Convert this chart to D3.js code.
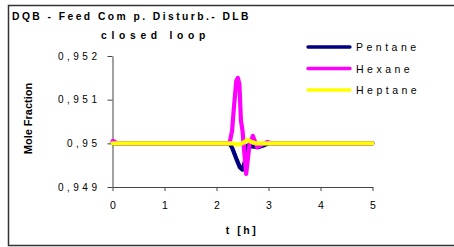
<!DOCTYPE html>
<html>
<head>
<meta charset="utf-8">
<script src="https://cdn.jsdelivr.net/npm/d3@7"></script>
<style>
  html, body { margin: 0; padding: 0; background: #fff; }
  svg { display: block; }
  text { font-family: "Liberation Sans", Arial, sans-serif; fill: #000; }
</style>
</head>
<body>
<svg id="chart" width="454" height="247"></svg>
<script>
// ---- data ----
const titleLines = ["DQB - Feed Com p. Disturb.- DLB", "closed loop"];
const xLabel = "t [h]";
const yLabel = "Mole Fraction";
const xTicks = [0, 1, 2, 3, 4, 5];
const yTicks = [0.949, 0.950, 0.951, 0.952];
const yTickLabels = ["0,949", "0,95", "0,951", "0,952"];
const seriesNames = ["Pentane", "Hexane", "Heptane"];
const seriesColors = ["#000080", "#FF00FF", "#FFFF00"];

const pentaneT = [0, 2.25, 2.30, 2.38, 2.45, 2.50, 2.55, 2.60, 2.68, 2.80, 2.90, 3.00, 5];
const pentaneV = [0.95, 0.95, 0.94990, 0.94965, 0.94945, 0.94940, 0.94960, 0.94995, 0.94993, 0.94991, 0.94995, 0.95, 0.95];

const hexaneT = [0, 0.04, 0.08, 2.25, 2.30, 2.33, 2.38, 2.41, 2.44, 2.47, 2.50, 2.52, 2.57, 2.635, 2.70, 2.78, 2.87, 2.97, 3.07, 5];
const hexaneV = [0.95005, 0.95004, 0.95, 0.95, 0.95029, 0.95075, 0.95143, 0.95150, 0.95136, 0.95052, 0.95029, 0.95, 0.94930, 0.94998, 0.95017, 0.94991, 0.94997, 0.95003, 0.95, 0.95];

const heptaneT = [0, 2.30, 2.40, 2.50, 2.60, 2.68, 2.75, 5];
const heptaneV = [0.95, 0.95, 0.94997, 0.95, 0.95008, 0.95003, 0.95, 0.95];

const seriesT = [pentaneT, hexaneT, heptaneT];
const seriesV = [pentaneV, hexaneV, heptaneV];

// ---- drawing ----
const svg = d3.select("#chart");

// outer frame
svg.append("path")
  .attr("d", "M454,5.5 H8.5 V245.5 H454")
  .attr("fill", "none")
  .attr("stroke", "#333")
  .attr("stroke-width", 1.5);

const x = d3.scaleLinear().domain([0, 5]).range([112.5, 372.5]);
const y = d3.scaleLinear().domain([0.949, 0.952]).range([187, 56]);

// title
svg.append("text")
  .attr("x", 12).attr("y", 19.5)
  .attr("font-size", 10.3).attr("font-weight", "bold")
  .attr("letter-spacing", 2.45)
  .text(titleLines[0]);
svg.append("text")
  .attr("x", 101).attr("y", 38.5)
  .attr("font-size", 10.3).attr("font-weight", "bold")
  .attr("letter-spacing", 4.7)
  .text(titleLines[1]);

// y axis
const yAxis = d3.axisLeft(y)
  .tickValues(yTicks)
  .tickFormat((d, i) => yTickLabels[i])
  .tickSize(5).tickSizeOuter(0).tickPadding(7);
const gy = svg.append("g").attr("transform", `translate(${x(0)},0)`).call(yAxis);
gy.selectAll("path, line").attr("stroke", "#444");
gy.selectAll("text")
  .attr("font-size", 10)
  .attr("letter-spacing", 3.5)
  .style("font-family", '"Liberation Sans", Arial, sans-serif');

// x axis
const xAxis = d3.axisBottom(x)
  .tickValues(xTicks)
  .tickFormat(d3.format("d"))
  .tickSize(4).tickSizeOuter(0).tickPadding(10.5);
const gx = svg.append("g").attr("transform", `translate(0,${y(0.949)})`).call(xAxis);
gx.selectAll("path, line").attr("stroke", "#444");
gx.selectAll("text")
  .attr("font-size", 10.5)
  .style("font-family", '"Liberation Sans", Arial, sans-serif');

// axis labels
svg.append("text")
  .attr("x", 242).attr("y", 234)
  .attr("text-anchor", "middle")
  .attr("font-size", 10.5).attr("font-weight", "bold")
  .attr("letter-spacing", 2.5)
  .text(xLabel);
svg.append("text")
  .attr("transform", "translate(32,118.5) rotate(-90)")
  .attr("text-anchor", "middle")
  .attr("font-size", 11).attr("font-weight", "bold")
  .text(yLabel);

// lines
const line = d3.line().x(d => x(d[0])).y(d => y(d[1]));
seriesNames.forEach((name, i) => {
  const pts = seriesT[i].map((t, j) => [t, seriesV[i][j]]);
  svg.append("path")
    .datum(pts)
    .attr("d", line)
    .attr("fill", "none")
    .attr("stroke", seriesColors[i])
    .attr("stroke-width", 4.2)
    .attr("stroke-linejoin", "round")
    .attr("stroke-linecap", "round");
});

// legend
const lg = svg.append("g");
seriesNames.forEach((name, i) => {
  const yy = 47 + i * 21.5;
  lg.append("line")
    .attr("x1", 308).attr("x2", 350)
    .attr("y1", yy).attr("y2", yy)
    .attr("stroke", seriesColors[i])
    .attr("stroke-width", 3.3)
    .attr("stroke-linecap", "round");
  lg.append("text")
    .attr("x", 356).attr("y", yy + 4)
    .attr("font-size", 10.5)
    .attr("letter-spacing", 3.5)
    .text(name);
});
</script>
</body>
</html>
